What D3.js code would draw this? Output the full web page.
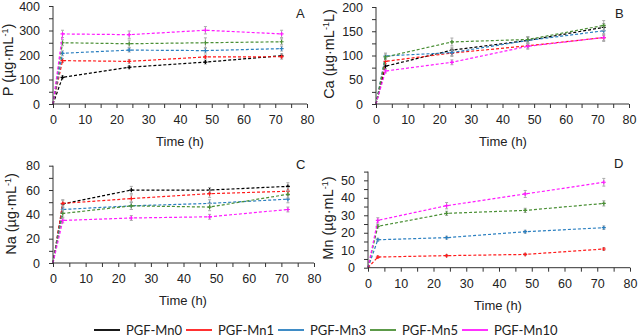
<!DOCTYPE html>
<html lang="en">
<head>
<meta charset="utf-8">
<title>release</title>
<script src="https://cdn.jsdelivr.net/npm/d3@7"></script>
<style>
  body { margin: 0; background: #fff; }
  text { font-family: "Liberation Sans", Arial, sans-serif; fill: #222; }
  .legend text { font-family: Lato, "Open Sans", sans-serif; }
</style>
</head>
<body>
<script>
// data
var times = [0, 3, 24, 48, 72];
var seriesNames = ["PGF-Mn0", "PGF-Mn1", "PGF-Mn3", "PGF-Mn5", "PGF-Mn10"];
var seriesColors = ["#000000", "#ff1a1a", "#2a7fc0", "#4a8f35", "#ff1aff"];

var pVals = [
  [0, 109, 150, 171, 197],
  [0, 177, 174, 192, 193],
  [0, 207, 220, 218, 226],
  [0, 250, 246, 250, 254],
  [0, 286, 283, 301, 286]
];
var pErr = [
  [0, 6, 6, 8, 8], [0, 8, 8, 8, 10], [0, 10, 8, 10, 10], [0, 12, 15, 20, 12], [0, 15, 15, 15, 15]
];
var caVals = [
  [0, 78, 111, 131, 158],
  [0, 88, 105, 120, 137],
  [0, 99, 106, 131, 151],
  [0, 97, 128, 133, 162],
  [0, 68, 86, 119, 137]
];
var caErr = [
  [0, 5, 6, 6, 8], [0, 5, 5, 5, 6], [0, 6, 8, 8, 10], [0, 6, 8, 6, 10], [0, 4, 5, 6, 8]
];
var naVals = [
  [0, 48.6, 60, 60, 63],
  [0, 49, 53, 57, 59],
  [0, 44, 47, 49, 52.5],
  [0, 40.7, 47, 46, 56.5],
  [0, 35, 37, 38, 44]
];
var naErr = [
  [0, 3, 3, 2, 3], [0, 3, 3, 3, 3], [0, 3, 3, 3, 3], [0, 3, 3, 3, 3], [0, 2, 2, 2, 2]
];
var mnVals = [
  [0, 0, 0, 0, 0],
  [0, 6.1, 6.9, 7.6, 10.7],
  [0, 16, 17.2, 20.6, 22.9],
  [0, 23.7, 31.1, 32.8, 36.8],
  [0, 27.1, 35.5, 42.2, 48.9]
];
var mnErr = [
  [0, 0, 0, 0, 0], [0, 0.6, 0.6, 0.6, 0.8], [0, 0.8, 0.8, 0.8, 1], [0, 1, 1.2, 1.2, 1.5], [0, 1.5, 1.8, 2, 2.2]
];

var xTicks = [0, 10, 20, 30, 40, 50, 60, 70, 80];

var svg = d3.select("body").append("svg")
  .attr("width", 638).attr("height", 336);

function panel(o) {
  var g = svg.append("g");
  var x = d3.scaleLinear().domain([0, 80]).range([o.x0, o.x1]);
  var y = d3.scaleLinear().domain([0, o.ymax]).range([o.y0, o.y1]);

  var line = d3.line().x(function (d) { return x(d[0]); }).y(function (d) { return y(d[1]); });

  o.vals.forEach(function (vals, i) {
    // a series sitting at zero the whole time is hidden under the axis
    if (d3.max(vals) === 0) return;
    var pts = times.map(function (t, j) { return [t, vals[j], o.err[i][j]]; });
    var s = g.append("g");
    s.selectAll(".eb").data(pts.slice(1)).enter().append("path")
      .attr("d", function (d) {
        var cx = x(d[0]), a = y(d[1] - d[2]), b = y(d[1] + d[2]);
        return "M" + cx + "," + a + "V" + b + "M" + (cx - 1.5) + "," + a + "h3M" + (cx - 1.5) + "," + b + "h3";
      })
      .attr("stroke", "#aaa").attr("stroke-width", 1).attr("fill", "none");
    s.append("path").datum(pts).attr("d", line)
      .attr("fill", "none").attr("stroke", seriesColors[i])
      .attr("stroke-width", 1.2).attr("stroke-dasharray", "3,2");
    s.selectAll(".mk").data(pts.slice(1)).enter().append("path")
      .attr("d", function (d) {
        var cx = x(d[0]), cy = y(d[1]);
        return "M" + (cx - 2) + "," + cy + "h4M" + cx + "," + (cy - 2) + "v4";
      })
      .attr("stroke", seriesColors[i]).attr("stroke-width", 1.2);
  });

  // x axis: major + minor ticks
  g.append("g").attr("transform", "translate(0," + o.y0 + ")")
    .call(d3.axisBottom(x).tickValues(d3.range(0, 81, 5)).tickSize(4).tickFormat(""))
    .call(function (a) { a.select(".domain").remove(); a.selectAll("line").attr("stroke", "#333"); });
  g.append("g").attr("transform", "translate(0," + o.y0 + ")")
    .call(d3.axisBottom(x).tickValues(xTicks).tickSize(0).tickPadding(11))
    .call(function (a) {
      a.select(".domain").attr("stroke", "#333").attr("d", "M" + o.x0 + ",0H" + o.x1);
      a.selectAll("text").attr("font-size", 12.5).attr("fill", "#222");
    });

  // y axis
  g.append("g").attr("transform", "translate(" + o.x0 + ",0)")
    .call(d3.axisLeft(y).tickValues(d3.range(0, o.ymax + 0.01, o.minor)).tickSize(4).tickFormat(""))
    .call(function (a) { a.select(".domain").remove(); a.selectAll("line").attr("stroke", "#333"); });
  g.append("g").attr("transform", "translate(" + o.x0 + ",0)")
    .call(d3.axisLeft(y).tickValues(o.yTicks).tickSize(0).tickPadding(13))
    .call(function (a) {
      a.select(".domain").attr("stroke", "#333").attr("d", "M0," + o.y0 + "V" + o.y1);
      a.selectAll("text").attr("font-size", 12.5).attr("fill", "#222");
    });

  // titles
  g.append("text").attr("x", o.tx).attr("y", o.ty).attr("text-anchor", "middle")
    .attr("font-size", 13).text("Time (h)");
  var yl = g.append("text").attr("transform", "translate(" + o.lx + "," + o.ly + ") rotate(-90)")
    .attr("text-anchor", "middle").attr("font-size", 14.5);
  yl.append("tspan").text(o.label + " (\u00b5g\u00b7mL");
  yl.append("tspan").attr("baseline-shift", "super").attr("font-size", 9).text("-1");
  if (o.suffix) yl.append("tspan").text(o.suffix);
  yl.append("tspan").text(")");
  g.append("text").attr("x", o.letterX).attr("y", o.letterY).attr("font-size", 13).text(o.letter);
}

panel({ x0: 53, x1: 307, y0: 104, y1: 6, ymax: 400, yTicks: [0, 100, 200, 300, 400], minor: 50,
  vals: pVals, err: pErr, label: "P", tx: 180, ty: 146, lx: 13, ly: 60, letter: "A", letterX: 296, letterY: 18 });
panel({ x0: 376, x1: 629, y0: 104, y1: 7, ymax: 200, yTicks: [0, 50, 100, 150, 200], minor: 25,
  vals: caVals, err: caErr, label: "Ca", suffix: "L", tx: 503, ty: 146, lx: 334, ly: 54, letter: "B", letterX: 615, letterY: 18 });
panel({ x0: 53, x1: 314, y0: 263, y1: 165.7, ymax: 80, yTicks: [0, 20, 40, 60, 80], minor: 10,
  vals: naVals, err: naErr, label: "Na", tx: 183, ty: 305, lx: 16, ly: 214, letter: "C", letterX: 296, letterY: 169 });
panel({ x0: 368, x1: 630, y0: 267.7, y1: 171.6, ymax: 55, yTicks: [0, 10, 20, 30, 40, 50], minor: 5,
  vals: mnVals, err: mnErr, label: "Mn", tx: 498, ty: 310, lx: 333, ly: 218, letter: "D", letterX: 614, letterY: 168 });

// legend
var legX = d3.scalePoint().domain(seriesNames).range([94, 462]);
var leg = svg.append("g").attr("class", "legend");
var items = leg.selectAll("g").data(seriesNames).enter().append("g")
  .attr("transform", function (d) { return "translate(" + legX(d) + ",330)"; });
items.append("line").attr("x1", 0).attr("x2", 26).attr("y1", 0).attr("y2", 0)
  .attr("stroke", function (d, i) { return seriesColors[i]; }).attr("stroke-width", 1.8);
items.append("text").attr("x", 32).attr("y", 4.5).attr("font-size", 13).text(function (d) { return d; });
</script>
</body>
</html>
